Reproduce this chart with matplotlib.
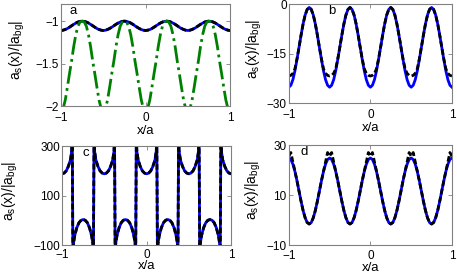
import numpy as np
import matplotlib.pyplot as plt

plt.rcParams['font.family'] = ['Liberation Sans', 'DejaVu Sans']

# sample positions for panels a, b, d
x = np.linspace(-1, 1, 81)

# panel a
a_blue = [-1.110, -1.107, -1.099, -1.087, -1.072, -1.055, -1.038, -1.023, -1.011, -1.003,
          -1.000, -1.003, -1.011, -1.023, -1.038, -1.055, -1.072, -1.087, -1.099, -1.107,
          -1.110, -1.107, -1.099, -1.087, -1.072, -1.055, -1.038, -1.023, -1.011, -1.003,
          -1.000, -1.003, -1.011, -1.023, -1.038, -1.055, -1.072, -1.087, -1.099, -1.107,
          -1.110, -1.107, -1.099, -1.087, -1.072, -1.055, -1.038, -1.023, -1.011, -1.003,
          -1.000, -1.003, -1.011, -1.023, -1.038, -1.055, -1.072, -1.087, -1.099, -1.107,
          -1.110, -1.107, -1.099, -1.087, -1.072, -1.055, -1.038, -1.023, -1.011, -1.003,
          -1.000, -1.003, -1.011, -1.023, -1.038, -1.055, -1.072, -1.087, -1.099, -1.107,
          -1.110]
a_black = [-1.110, -1.106, -1.098, -1.086, -1.071, -1.054, -1.037, -1.022, -1.010, -1.003,
           -1.000, -1.003, -1.010, -1.022, -1.037, -1.054, -1.071, -1.086, -1.098, -1.106,
           -1.110, -1.106, -1.098, -1.086, -1.071, -1.054, -1.037, -1.022, -1.010, -1.003,
           -1.000, -1.003, -1.010, -1.022, -1.037, -1.054, -1.071, -1.086, -1.098, -1.106,
           -1.110, -1.106, -1.098, -1.086, -1.071, -1.054, -1.037, -1.022, -1.010, -1.003,
           -1.000, -1.003, -1.010, -1.022, -1.037, -1.054, -1.071, -1.086, -1.098, -1.106,
           -1.110, -1.106, -1.098, -1.086, -1.071, -1.054, -1.037, -1.022, -1.010, -1.003,
           -1.000, -1.003, -1.010, -1.022, -1.037, -1.054, -1.071, -1.086, -1.098, -1.106,
           -1.110]
a_green = [-2.07, -2.03, -1.93, -1.78, -1.62, -1.47, -1.30, -1.16, -1.06, -1.01,
           -1.00, -1.01, -1.06, -1.16, -1.30, -1.47, -1.62, -1.78, -1.93, -2.03,
           -2.07, -2.03, -1.93, -1.78, -1.62, -1.47, -1.30, -1.16, -1.06, -1.01,
           -1.00, -1.01, -1.06, -1.16, -1.30, -1.47, -1.62, -1.78, -1.93, -2.03,
           -2.07, -2.03, -1.93, -1.78, -1.62, -1.47, -1.30, -1.16, -1.06, -1.01,
           -1.00, -1.01, -1.06, -1.16, -1.30, -1.47, -1.62, -1.78, -1.93, -2.03,
           -2.07, -2.03, -1.93, -1.78, -1.62, -1.47, -1.30, -1.16, -1.06, -1.01,
           -1.00, -1.01, -1.06, -1.16, -1.30, -1.47, -1.62, -1.78, -1.93, -2.03,
           -2.07]

# panel b
b_blue = [-25.2, -24.6, -22.9, -20.2, -16.8, -13.1, -9.4, -6.0, -3.3, -1.6,
          -1.0, -1.6, -3.3, -6.0, -9.4, -13.1, -16.8, -20.2, -22.9, -24.6,
          -25.2, -24.6, -22.9, -20.2, -16.8, -13.1, -9.4, -6.0, -3.3, -1.6,
          -1.0, -1.6, -3.3, -6.0, -9.4, -13.1, -16.8, -20.2, -22.9, -24.6,
          -25.2, -24.6, -22.9, -20.2, -16.8, -13.1, -9.4, -6.0, -3.3, -1.6,
          -1.0, -1.6, -3.3, -6.0, -9.4, -13.1, -16.8, -20.2, -22.9, -24.6,
          -25.2, -24.6, -22.9, -20.2, -16.8, -13.1, -9.4, -6.0, -3.3, -1.6,
          -1.0, -1.6, -3.3, -6.0, -9.4, -13.1, -16.8, -20.2, -22.9, -24.6,
          -25.2]
b_black = [-21.8, -21.6, -21.0, -19.6, -16.6, -13.1, -9.4, -6.0, -3.3, -1.6,
           -1.0, -1.6, -3.3, -6.0, -9.4, -13.1, -16.6, -19.6, -21.0, -21.6,
           -21.8, -21.6, -21.0, -19.6, -16.6, -13.1, -9.4, -6.0, -3.3, -1.6,
           -1.0, -1.6, -3.3, -6.0, -9.4, -13.1, -16.6, -19.6, -21.0, -21.6,
           -21.8, -21.6, -21.0, -19.6, -16.6, -13.1, -9.4, -6.0, -3.3, -1.6,
           -1.0, -1.6, -3.3, -6.0, -9.4, -13.1, -16.6, -19.6, -21.0, -21.6,
           -21.8, -21.6, -21.0, -19.6, -16.6, -13.1, -9.4, -6.0, -3.3, -1.6,
           -1.0, -1.6, -3.3, -6.0, -9.4, -13.1, -16.6, -19.6, -21.0, -21.6,
           -21.8]

# panel c (curve passes through poles, so its own sample positions)
c_x = [-1.000, -0.975, -0.950, -0.925, -0.900, -0.885, -0.879,
       -0.871, -0.865, -0.850, -0.825, -0.800, -0.775, -0.750, -0.725, -0.700, -0.675, -0.650, -0.635, -0.629,
       -0.621, -0.615, -0.600, -0.575, -0.550, -0.525, -0.500, -0.475, -0.450, -0.425, -0.400, -0.385, -0.379,
       -0.371, -0.365, -0.350, -0.325, -0.300, -0.275, -0.250, -0.225, -0.200, -0.175, -0.150, -0.135, -0.129,
       -0.121, -0.115, -0.100, -0.075, -0.050, -0.025, 0.000, 0.025, 0.050, 0.075, 0.100, 0.115, 0.121,
       0.129, 0.135, 0.150, 0.175, 0.200, 0.225, 0.250, 0.275, 0.300, 0.325, 0.350, 0.365, 0.371,
       0.379, 0.385, 0.400, 0.425, 0.450, 0.475, 0.500, 0.525, 0.550, 0.575, 0.600, 0.615, 0.621,
       0.629, 0.635, 0.650, 0.675, 0.700, 0.725, 0.750, 0.775, 0.800, 0.825, 0.850, 0.865, 0.871,
       0.879, 0.885, 0.900, 0.925, 0.950, 0.975, 1.000]
c_y = [188, 191, 200, 218, 245, 280, 340,
       -160, -95, -62, -30, -10, 0, 3, 0, -10, -30, -62, -95, -160,
       340, 280, 245, 218, 200, 191, 188, 191, 200, 218, 245, 280, 340,
       -160, -95, -62, -30, -10, 0, 3, 0, -10, -30, -62, -95, -160,
       340, 280, 245, 218, 200, 191, 188, 191, 200, 218, 245, 280, 340,
       -160, -95, -62, -30, -10, 0, 3, 0, -10, -30, -62, -95, -160,
       340, 280, 245, 218, 200, 191, 188, 191, 200, 218, 245, 280, 340,
       -160, -95, -62, -30, -10, 0, 3, 0, -10, -30, -62, -95, -160,
       340, 280, 245, 218, 200, 191, 188]

# panel d
d_blue = [24.8, 24.2, 22.3, 19.4, 15.7, 11.6, 7.5, 3.8, 0.9, -1.0,
          -1.6, -1.0, 0.9, 3.8, 7.5, 11.6, 15.7, 19.4, 22.3, 24.2,
          24.8, 24.2, 22.3, 19.4, 15.7, 11.6, 7.5, 3.8, 0.9, -1.0,
          -1.6, -1.0, 0.9, 3.8, 7.5, 11.6, 15.7, 19.4, 22.3, 24.2,
          24.8, 24.2, 22.3, 19.4, 15.7, 11.6, 7.5, 3.8, 0.9, -1.0,
          -1.6, -1.0, 0.9, 3.8, 7.5, 11.6, 15.7, 19.4, 22.3, 24.2,
          24.8, 24.2, 22.3, 19.4, 15.7, 11.6, 7.5, 3.8, 0.9, -1.0,
          -1.6, -1.0, 0.9, 3.8, 7.5, 11.6, 15.7, 19.4, 22.3, 24.2,
          24.8]
d_black = [25.5, 27.0, 23.2, 19.5, 15.7, 11.6, 7.5, 3.8, 0.9, -1.0,
           -1.6, -1.0, 0.9, 3.8, 7.5, 11.6, 15.7, 19.5, 23.2, 27.0,
           25.5, 27.0, 23.2, 19.5, 15.7, 11.6, 7.5, 3.8, 0.9, -1.0,
           -1.6, -1.0, 0.9, 3.8, 7.5, 11.6, 15.7, 19.5, 23.2, 27.0,
           25.5, 27.0, 23.2, 19.5, 15.7, 11.6, 7.5, 3.8, 0.9, -1.0,
           -1.6, -1.0, 0.9, 3.8, 7.5, 11.6, 15.7, 19.5, 23.2, 27.0,
           25.5, 27.0, 23.2, 19.5, 15.7, 11.6, 7.5, 3.8, 0.9, -1.0,
           -1.6, -1.0, 0.9, 3.8, 7.5, 11.6, 15.7, 19.5, 23.2, 27.0,
           25.5]

ylabel = r'a$_\mathregular{s}$(x)/|a$_\mathregular{bg}$|'
blue = '#0000ff'
dash = (2, 1)

fig = plt.figure(figsize=(4.57, 2.77), dpi=100)
# [left, bottom, width, height]
ax_a = fig.add_axes([0.1335, 0.617, 0.370, 0.368])
ax_b = fig.add_axes([0.632, 0.628, 0.357, 0.357])
ax_c = fig.add_axes([0.1357, 0.1155, 0.370, 0.357])
ax_d = fig.add_axes([0.632, 0.1155, 0.357, 0.361])

ax_a.plot(x, a_blue, color=blue, lw=2.0)
ax_a.plot(x, a_black, color='k', lw=2.0, dashes=dash)
ax_a.plot(x, a_green, color='#008000', lw=2.0, linestyle='-.')
ax_a.set_ylim(-2, -0.8)
ax_a.set_yticks([-2, -1.5, -1])
ax_a.set_yticklabels(['\u22122', '\u22121.5', '\u22121'])

ax_b.plot(x, b_blue, color=blue, lw=2.0)
ax_b.plot(x, b_black, color='k', lw=2.0, dashes=dash)
ax_b.set_ylim(-30, 0)
ax_b.set_yticks([-30, -15, 0])

ax_c.plot(c_x, c_y, color=blue, lw=2.0)
ax_c.plot(c_x, c_y, color='k', lw=2.0, dashes=dash)
ax_c.set_ylim(-100, 300)
ax_c.set_yticks([-100, 100, 300])

ax_d.plot(x, d_blue, color=blue, lw=2.0)
ax_d.plot(x, d_black, color='k', lw=2.0, dashes=dash)
ax_d.set_ylim(-10, 30)
ax_d.set_yticks([-10, 10, 30])

panels = [(ax_a, 'a', 0.05, -0.20, -0.185, 4),
          (ax_b, 'b', 0.24, -0.15, -0.19, 4),
          (ax_c, 'c', 0.12, -0.25, -0.15, 3),
          (ax_d, 'd', 0.07, -0.16, -0.165, 3.5)]
for ax, tag, tx, ylx, xly, xpad in panels:
    ax.set_xlim(-1, 1)
    ax.set_xticks([-1, 0, 1])
    ax.set_xticklabels(['\u22121', '0', '1'])
    for s in ax.spines.values():
        s.set_color('#808080')
        s.set_linewidth(0.8)
    ax.tick_params(direction='in', length=3, width=0.6, color='#808080',
                   top=True, right=True, labelsize=8.5)
    ax.tick_params(axis='x', pad=xpad)
    ax.tick_params(axis='y', pad=1.5)
    ax.set_ylabel(ylabel, fontsize=10)
    ax.set_xlabel('x/a', fontsize=9.5)
    ax.yaxis.set_label_coords(ylx, 0.55)
    ax.xaxis.set_label_coords(0.5, xly)
    ax.text(tx, 0.93, tag, transform=ax.transAxes, fontsize=9.5,
            ha='left', va='center')

fig.savefig('out.png', dpi=100)
